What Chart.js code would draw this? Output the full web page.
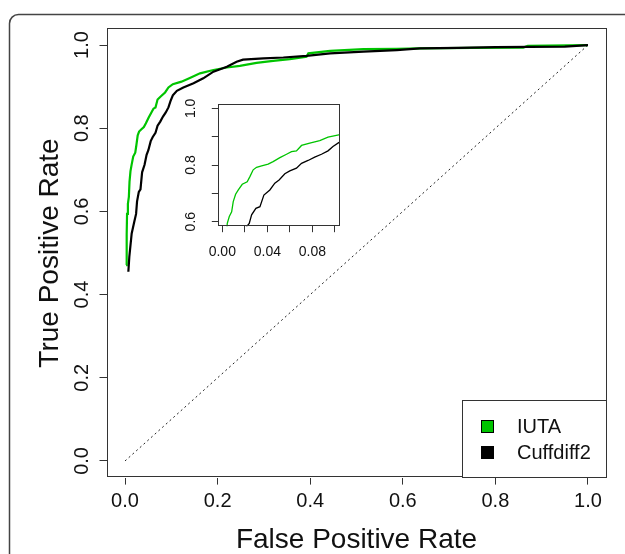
<!DOCTYPE html>
<html><head><meta charset="utf-8">
<script src="https://cdn.jsdelivr.net/npm/chart.js@4.4.1/dist/chart.umd.min.js"></script>
<style>
html,body{margin:0;padding:0;background:#fff;}
#wrap{position:relative;width:625px;height:554px;overflow:hidden;}
#main{position:absolute;left:0;top:0;}
#inset{position:absolute;left:180px;top:95px;}
</style></head><body>
<div id="wrap">
<canvas id="main" width="625" height="554"></canvas>
<canvas id="inset" width="170" height="175"></canvas>
</div>
<script>
// ---- data ----
const seriesNames = ['IUTA', 'Cuffdiff2'];
const iutaFpr = [0.0022,0.0036,0.0044,0.0062,0.0083,0.0097,0.0118,0.0142,0.0177,0.0221,0.0245,0.0274,0.0304,0.0349,0.0407,0.0451,0.0511,0.0570,0.0614,0.0658,0.0703,0.0776,0.0865,0.0938,0.1033,0.1220,0.1400,0.1620,0.1910,0.2200,0.2480,0.2840,0.3200,0.3560,0.3920,0.3960,0.4430,0.5150,0.5870,0.6370,0.7500,0.8600,0.8700,1.0];
const iutaTpr = [0.471,0.545,0.594,0.618,0.635,0.671,0.697,0.712,0.732,0.741,0.759,0.783,0.792,0.797,0.803,0.812,0.826,0.838,0.847,0.850,0.869,0.877,0.886,0.898,0.906,0.912,0.921,0.932,0.940,0.946,0.950,0.957,0.962,0.966,0.972,0.980,0.986,0.990,0.991,0.992,0.993,0.994,0.998,1.0];
const cuffFpr = [0.0072,0.0093,0.0144,0.0200,0.0239,0.0260,0.0298,0.0334,0.0369,0.0422,0.0466,0.0504,0.0555,0.0599,0.0658,0.0703,0.0761,0.0820,0.0880,0.0938,0.0982,0.1033,0.1120,0.1260,0.1480,0.1690,0.1910,0.2200,0.2410,0.2550,0.2990,0.3420,0.3920,0.4430,0.5150,0.5870,0.6370,0.7200,0.8000,0.9500,1.0];
const cuffTpr = [0.455,0.491,0.547,0.575,0.594,0.624,0.647,0.653,0.694,0.712,0.736,0.747,0.769,0.779,0.789,0.806,0.816,0.828,0.838,0.850,0.865,0.879,0.890,0.898,0.908,0.920,0.936,0.948,0.960,0.965,0.968,0.970,0.974,0.980,0.984,0.988,0.992,0.993,0.995,0.996,1.0];
const diagFpr = [0, 1];
const diagTpr = [0, 1];
const mainTicks = [0, 0.2, 0.4, 0.6, 0.8, 1.0];
const mainTickLabels = ['0.0','0.2','0.4','0.6','0.8','1.0'];
const insetXTicks = [0, 0.02, 0.04, 0.06, 0.08, 0.10];
const insetXLabels = ['0.00','','0.04','','0.08',''];
const insetYTicks = [0.6, 0.7, 0.8, 0.9, 1.0];
const insetYLabels = ['0.6','','0.8','','1.0'];
const xTitle = 'False Positive Rate';
const yTitle = 'True Positive Rate';

// ---- styling ----
const FONT = '"Liberation Sans", Arial, Helvetica, sans-serif';
const GREEN = '#00c400';
const BLACK = '#000000';
const AXIS = '#333333';

const pts = (xs, ys) => xs.map((x, i) => ({x: x, y: ys[i]}));

const boxPlugin = {
  id: 'plotBox',
  afterDatasetsDraw(chart) {
    const {ctx, chartArea: a} = chart;
    ctx.save();
    ctx.strokeStyle = AXIS;
    ctx.lineWidth = 1;
    ctx.strokeRect(Math.round(a.left) + 0.5, Math.round(a.top) + 0.5,
                   Math.round(a.right - a.left) - 1, Math.round(a.bottom - a.top) - 1);
    ctx.restore();
  }
};

const framePlugin = {
  id: 'frame',
  beforeDraw(chart) {
    const ctx = chart.ctx;
    const x = 9.5, y = 14.5, r = 9;
    ctx.save();
    ctx.strokeStyle = '#444';
    ctx.lineWidth = 1.5;
    ctx.beginPath();
    ctx.moveTo(x, chart.height + 2);
    ctx.lineTo(x, y + r);
    ctx.arcTo(x, y, x + r, y, r);
    ctx.lineTo(chart.width + 2, y);
    ctx.stroke();
    ctx.restore();
  }
};

const legendPlugin = {
  id: 'boxLegend',
  afterDraw(chart) {
    const {ctx, chartArea: a} = chart;
    const w = 145, h = 78;
    const left = Math.round(a.right) - w, top = Math.round(a.bottom) - h;
    ctx.save();
    ctx.fillStyle = '#fff';
    ctx.fillRect(left, top, w, h);
    ctx.strokeStyle = AXIS;
    ctx.lineWidth = 1;
    ctx.strokeRect(left + 0.5, top + 0.5, w - 1, h - 1);
    ctx.font = '20px ' + FONT;
    ctx.textBaseline = 'middle';
    ctx.textAlign = 'left';
    const rows = [
      {label: seriesNames[0], color: GREEN},
      {label: seriesNames[1], color: BLACK}
    ];
    rows.forEach((r, i) => {
      const cy = top + 26.5 + i * 26;
      ctx.fillStyle = r.color;
      ctx.fillRect(left + 19, cy - 6.5, 13, 13);
      ctx.strokeStyle = '#000';
      ctx.strokeRect(left + 19.5, cy - 6, 12, 12);
      ctx.fillStyle = '#111';
      ctx.fillText(r.label, left + 55, cy + 0.5);
    });
    ctx.restore();
  }
};

function scaleCfg(opts) {
  return {
    type: 'linear',
    min: opts.min, max: opts.max,
    afterBuildTicks: s => { s.ticks = opts.ticks.map(v => ({value: v})); },
    afterFit: s => {
      opts.fit(s);
      s.paddingTop = 0; s.paddingBottom = 0; s.paddingLeft = 0; s.paddingRight = 0;
    },
    grid: {drawOnChartArea: false, drawTicks: true, tickLength: opts.tl, color: AXIS, tickColor: AXIS, lineWidth: 1},
    border: {display: false},
    ticks: Object.assign({
      font: {family: FONT, size: opts.fs},
      color: '#111',
      autoSkip: false,
      padding: opts.pad,
      callback: (v, i) => opts.labels[i]
    }, opts.extraTicks),
    title: opts.title ? {
      display: true, text: opts.title, color: '#111',
      font: {family: FONT, size: 28, lineHeight: 1},
      padding: opts.titlePad
    } : {display: false}
  };
}

const X_TICKS = {minRotation: 0, maxRotation: 0};
const Y_TICKS = {minRotation: 90, maxRotation: 90, crossAlign: 'center'};

new Chart(document.getElementById('main'), {
  type: 'line',
  data: {
    datasets: [
      {label: seriesNames[0], data: pts(iutaFpr, iutaTpr), borderColor: GREEN, borderWidth: 2.2, pointRadius: 0, tension: 0, fill: false, order: 1},
      {label: seriesNames[1], data: pts(cuffFpr, cuffTpr), borderColor: BLACK, borderWidth: 2.2, pointRadius: 0, tension: 0, fill: false, order: 0},
      {label: 'chance', data: pts(diagFpr, diagTpr), borderColor: '#222', borderWidth: 1, borderDash: [2, 3], pointRadius: 0, tension: 0, fill: false, order: 2}
    ]
  },
  options: {
    responsive: false, animation: false, devicePixelRatio: 1,
    layout: {padding: {top: 28.4, right: 18.5, left: 0, bottom: 0}},
    plugins: {legend: {display: false}, tooltip: {enabled: false}},
    scales: {
      x: scaleCfg({min: -0.04, max: 1.04, ticks: mainTicks, labels: mainTickLabels, tl: 7, fs: 20, pad: 5,
        fit: s => { s.height = 76.4; }, title: xTitle, titlePad: {top: 0, bottom: 0}, extraTicks: X_TICKS}),
      y: scaleCfg({min: -0.04, max: 1.04, ticks: mainTicks, labels: mainTickLabels, tl: 7, fs: 20, pad: 3.6,
        fit: s => { s.width = 106.5; }, title: yTitle, titlePad: {top: 36, bottom: 0}, extraTicks: Y_TICKS})
    }
  },
  plugins: [framePlugin, boxPlugin, legendPlugin]
});

new Chart(document.getElementById('inset'), {
  type: 'line',
  data: {
    datasets: [
      {label: seriesNames[0], data: pts(iutaFpr, iutaTpr), borderColor: GREEN, borderWidth: 1.3, pointRadius: 0, tension: 0, fill: false, order: 1},
      {label: seriesNames[1], data: pts(cuffFpr, cuffTpr), borderColor: BLACK, borderWidth: 1.3, pointRadius: 0, tension: 0, fill: false, order: 0}
    ]
  },
  options: {
    responsive: false, animation: false, devicePixelRatio: 1,
    layout: {padding: {top: 8.8, right: 10.5, left: 0, bottom: 0}},
    plugins: {legend: {display: false}, tooltip: {enabled: false}},
    scales: {
      x: scaleCfg({min: -0.004, max: 0.104, ticks: insetXTicks, labels: insetXLabels, tl: 6, fs: 14, pad: 11.4,
        fit: s => { s.height = 43.8; }, extraTicks: X_TICKS}),
      y: scaleCfg({min: 0.584, max: 1.016, ticks: insetYTicks, labels: insetYLabels, tl: 6, fs: 14, pad: 10.75,
        fit: s => { s.width = 37.8; }, extraTicks: Y_TICKS})
    }
  },
  plugins: [boxPlugin]
});
</script>
</body></html>
